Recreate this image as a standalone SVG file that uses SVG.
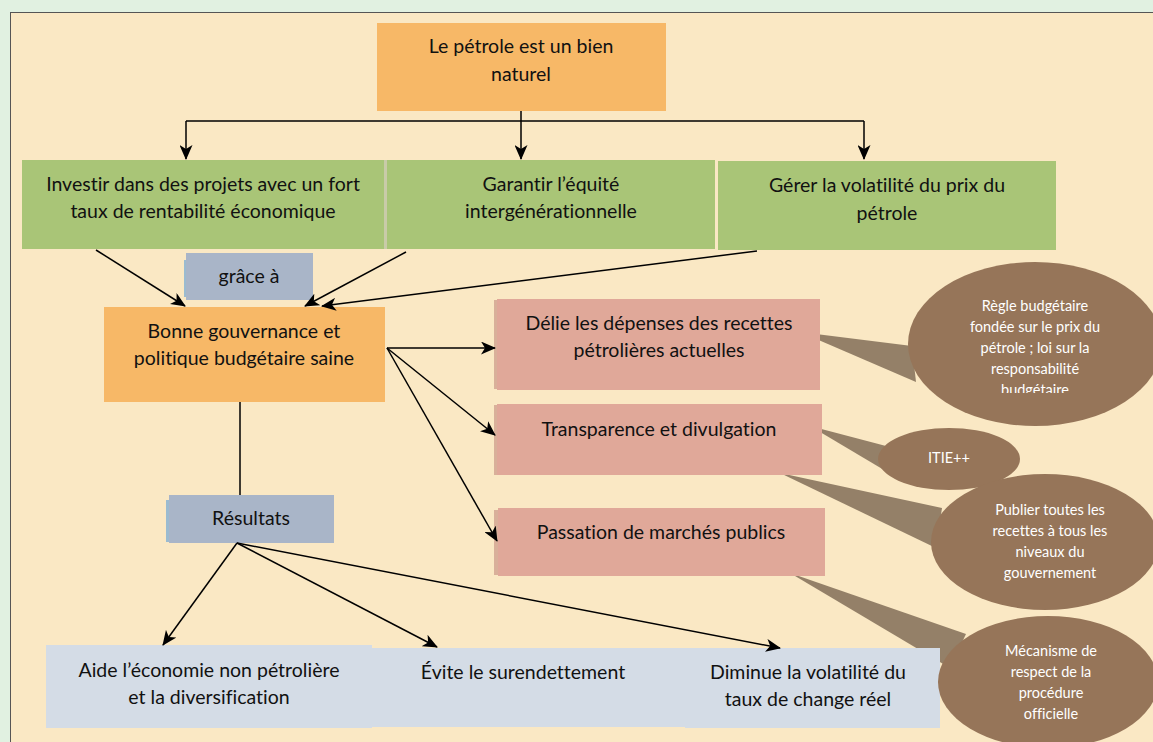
<svg xmlns="http://www.w3.org/2000/svg" width="1153" height="742" viewBox="0 0 1153 742">
<defs>
<marker id="ah" markerUnits="userSpaceOnUse" markerWidth="15" markerHeight="13" refX="14" refY="6.5" orient="auto">
<path d="M0,0 L15,6.5 L0,13 L4,6.5 z" fill="#000"/>
</marker>
<clipPath id="c1"><rect x="960" y="290" width="160" height="103"/></clipPath>
<style>
.t{font-family:Lato,"Open Sans",sans-serif;font-size:19.5px;fill:#111;text-anchor:middle;font-variant-ligatures:none}
.w{font-family:Lato,"Open Sans",sans-serif;font-size:14.5px;fill:#fff;text-anchor:middle;font-variant-ligatures:none}
.or{fill:#F7B867}
.gr{fill:#A9C577}
.pk{fill:#E0A899}
.bl{fill:#A9B5C8}
.lb{fill:#D4DCE6}
.el{fill:#967559}
.wd{fill:#948068}
.cn{stroke:#000;stroke-width:1.5;fill:none}
</style>
</defs>
<rect x="0" y="0" width="1153" height="742" fill="#E1F1E1"/>
<rect x="10.5" y="12.5" width="1150" height="740" fill="#FAE8C4" stroke="#555" stroke-width="1"/>

<g id="callouts">
<polygon class="wd" points="800,332 912,346 916,382"/>
<polygon class="wd" points="810,426 886,446 884,470"/>
<polygon class="wd" points="780,473 942,508 936,548"/>
<polygon class="wd" points="790,573 966,634 950,668"/>
</g>

<g id="n-petrole">
<rect class="or" x="377" y="23" width="289" height="88"/>
<text class="t" x="521" y="53">Le pétrole est un bien</text>
<text class="t" x="521" y="81">naturel</text>
</g>

<g id="n-investir">
<rect class="gr" x="22" y="160" width="362" height="89"/>
<rect x="384" y="160" width="3" height="89" fill="#C9CBA8"/>
<text class="t" x="203" y="191">Investir dans des projets avec un fort</text>
<text class="t" x="203" y="218">taux de rentabilité économique</text>
</g>
<g id="n-garantir">
<rect class="gr" x="387" y="160" width="328" height="89"/>
<text class="t" x="551" y="191">Garantir l’équité</text>
<text class="t" x="551" y="218">intergénérationnelle</text>
</g>
<g id="n-gerer">
<rect class="gr" x="718" y="161" width="338" height="89"/>
<text class="t" x="887" y="192">Gérer la volatilité du prix du</text>
<text class="t" x="887" y="220">pétrole</text>
</g>

<g id="n-grace">
<rect x="184" y="260" width="3" height="37" fill="#9BBBD0"/>
<rect class="bl" x="186" y="253" width="127" height="47"/>
<text class="t" x="249" y="283">grâce à</text>
</g>

<g id="n-bonne">
<rect class="or" x="104" y="307" width="281" height="95"/>
<text class="t" x="244" y="338">Bonne gouvernance et</text>
<text class="t" x="244" y="365">politique budgétaire saine</text>
</g>

<g id="n-delie">
<rect x="494" y="300" width="4" height="89" fill="#D9B09A"/>
<rect class="pk" x="497" y="299" width="323" height="91"/>
<text class="t" x="659" y="330">Délie les dépenses des recettes</text>
<text class="t" x="659" y="357">pétrolières actuelles</text>
</g>
<g id="n-transparence">
<rect x="494" y="405" width="4" height="70" fill="#D9B09A"/>
<rect class="pk" x="497" y="404" width="325" height="71"/>
<text class="t" x="659" y="436">Transparence et divulgation</text>
</g>
<g id="n-passation">
<rect x="494" y="510" width="4" height="65" fill="#D9B09A"/>
<rect class="pk" x="498" y="508" width="327" height="68"/>
<text class="t" x="661" y="539">Passation de marchés publics</text>
</g>

<g id="n-resultats">
<rect x="166" y="500" width="3" height="42" fill="#9BBBD0"/>
<rect class="bl" x="169" y="495" width="165" height="48"/>
<text class="t" x="251" y="525">Résultats</text>
</g>

<g id="n-aide">
<rect class="lb" x="46" y="645" width="326" height="83"/>
<text class="t" x="209" y="677">Aide l’économie non pétrolière</text>
<text class="t" x="209" y="704">et la diversification</text>
</g>
<g id="n-evite">
<rect class="lb" x="372" y="648" width="313" height="79"/>
<text class="t" x="523" y="679">Évite le surendettement</text>
</g>
<g id="n-diminue">
<rect class="lb" x="685" y="648" width="255" height="80"/>
<text class="t" x="808" y="679">Diminue la volatilité du</text>
<text class="t" x="808" y="706">taux de change réel</text>
</g>

<g id="n-regle">
<ellipse class="el" cx="1035" cy="344" rx="127" ry="82"/>
<g clip-path="url(#c1)">
<text class="w" x="1035" y="311">Règle budgétaire</text>
<text class="w" x="1035" y="332">fondée sur le prix du</text>
<text class="w" x="1035" y="353">pétrole ; loi sur la</text>
<text class="w" x="1035" y="374">responsabilité</text>
<text class="w" x="1035" y="395">budgétaire</text>
</g>
</g>
<g id="n-itie">
<ellipse class="el" cx="949" cy="459" rx="71" ry="31"/>
<text class="w" x="949" y="463">ITIE++</text>
</g>
<g id="n-publier">
<ellipse class="el" cx="1045" cy="542" rx="114" ry="68"/>
<text class="w" x="1050" y="515">Publier toutes les</text>
<text class="w" x="1050" y="536">recettes à tous les</text>
<text class="w" x="1050" y="557">niveaux du</text>
<text class="w" x="1050" y="578">gouvernement</text>
</g>
<g id="n-mecanisme">
<ellipse class="el" cx="1048" cy="682" rx="110" ry="66"/>
<text class="w" x="1051" y="656">Mécanisme de</text>
<text class="w" x="1051" y="677">respect de la</text>
<text class="w" x="1051" y="698">procédure</text>
<text class="w" x="1051" y="719">officielle</text>
</g>

<g id="connectors">
<path class="cn" d="M521,111 V121 M186,121 H864"/>
<path class="cn" d="M186,121 V159" marker-end="url(#ah)"/>
<path class="cn" d="M521,121 V159" marker-end="url(#ah)"/>
<path class="cn" d="M864,121 V159" marker-end="url(#ah)"/>
<path class="cn" d="M96,250 L185,306" marker-end="url(#ah)"/>
<path class="cn" d="M406,252 L305,306" marker-end="url(#ah)"/>
<path class="cn" d="M757,251 L322,306" marker-end="url(#ah)"/>
<path class="cn" d="M387,348 L495,348" marker-end="url(#ah)"/>
<path class="cn" d="M387,348 L495,435" marker-end="url(#ah)"/>
<path class="cn" d="M387,348 L497,541" marker-end="url(#ah)"/>
<path class="cn" d="M240,402 V495"/>
<path class="cn" d="M237,543 L163,645" marker-end="url(#ah)"/>
<path class="cn" d="M237,543 L437,647" marker-end="url(#ah)"/>
<path class="cn" d="M237,543 L780,648" marker-end="url(#ah)"/>
</g>
</svg>
